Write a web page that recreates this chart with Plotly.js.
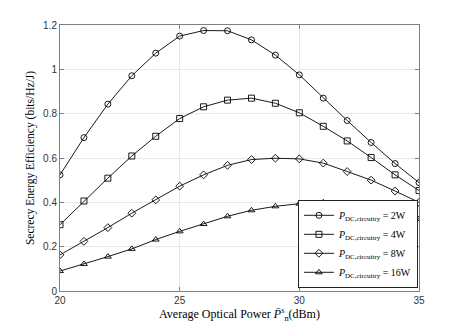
<!DOCTYPE html>
<html>
<head>
<meta charset="utf-8">
<script src="https://cdn.plot.ly/plotly-3.0.1.min.js"></script>
<style>
  html, body { margin: 0; padding: 0; background: #fff; }
  #myPlot { width: 463px; height: 327px; }
</style>
</head>
<body>
<div id="myPlot"></div>
<script>
// Average optical power (dBm)
var power = [20, 21, 22, 23, 24, 25, 26, 27, 28, 29, 30, 31, 32, 33, 34, 35];

// Secrecy energy efficiency for each circuitry power
var see2W  = [0.524, 0.692, 0.843, 0.971, 1.073, 1.150, 1.175, 1.174, 1.133, 1.064, 0.975, 0.870, 0.769, 0.670, 0.575, 0.489];
var see4W  = [0.299, 0.406, 0.509, 0.609, 0.698, 0.778, 0.831, 0.861, 0.870, 0.847, 0.804, 0.743, 0.677, 0.602, 0.524, 0.453];
var see8W  = [0.163, 0.224, 0.286, 0.351, 0.411, 0.473, 0.524, 0.567, 0.593, 0.599, 0.596, 0.577, 0.539, 0.500, 0.451, 0.400];
var see16W = [0.090, 0.122, 0.155, 0.190, 0.232, 0.269, 0.302, 0.337, 0.364, 0.382, 0.394, 0.400, 0.390, 0.375, 0.349, 0.325];

var names = ['2W', '4W', '8W', '16W'];
var symbols = ['circle-open', 'square-open', 'diamond-open', 'triangle-up-open'];
var series = [see2W, see4W, see8W, see16W];

var data = series.map(function (ys, i) {
  return {
    x: power,
    y: ys,
    type: 'scatter',
    mode: 'lines+markers',
    name: '<i>P</i><sub>DC,circuitry</sub> = ' + names[i],
    line: { color: '#000', width: 0.9 },
    marker: { symbol: symbols[i], size: 6, color: '#000', line: { width: 0.9, color: '#000' } }
  };
});

var axisCommon = {
  showline: true,
  mirror: 'ticks',
  linecolor: '#808080',
  linewidth: 1,
  ticks: 'inside',
  ticklen: 4,
  tickcolor: '#808080',
  showgrid: true,
  gridcolor: '#e8e8e8',
  zeroline: false,
  tickfont: { family: 'Liberation Sans, Arial, sans-serif', size: 10, color: '#333' }
};

var layout = {
  width: 463,
  height: 327,
  margin: { l: 60, r: 44, t: 25, b: 36 },
  paper_bgcolor: '#fff',
  plot_bgcolor: '#fff',
  showlegend: true,
  xaxis: Object.assign({}, axisCommon, {
    range: [20, 35],
    tickvals: [20, 25, 30, 35],
    ticktext: ['20', '25', '30', '35'],
    title: {
      text: 'Average Optical Power <i>P̄</i><sup>s</sup><sub>n</sub>(dBm)',
      font: { family: 'Liberation Serif, DejaVu Serif, serif', size: 12, color: '#000' },
      standoff: 4
    }
  }),
  yaxis: Object.assign({}, axisCommon, {
    range: [0, 1.2],
    tickvals: [0, 0.2, 0.4, 0.6, 0.8, 1, 1.2],
    ticktext: ['0', '0.2', '0.4', '0.6', '0.8', '1', '1.2'],
    title: {
      text: 'Secrecy Energy Efficiency (bits/Hz/J)',
      font: { family: 'Liberation Serif, DejaVu Serif, serif', size: 11.5, color: '#000' },
      standoff: 6
    }
  }),
  legend: {
    x: 0.997,
    xanchor: 'right',
    y: 0.012,
    yanchor: 'bottom',
    bgcolor: '#fff',
    bordercolor: '#222',
    borderwidth: 1,
    font: { family: 'Liberation Serif, DejaVu Serif, serif', size: 10, color: '#000' },
    tracegroupgap: 0,
    itemwidth: 30
  }
};

Plotly.newPlot('myPlot', data, layout, { displayModeBar: false, staticPlot: true });
</script>
</body>
</html>
